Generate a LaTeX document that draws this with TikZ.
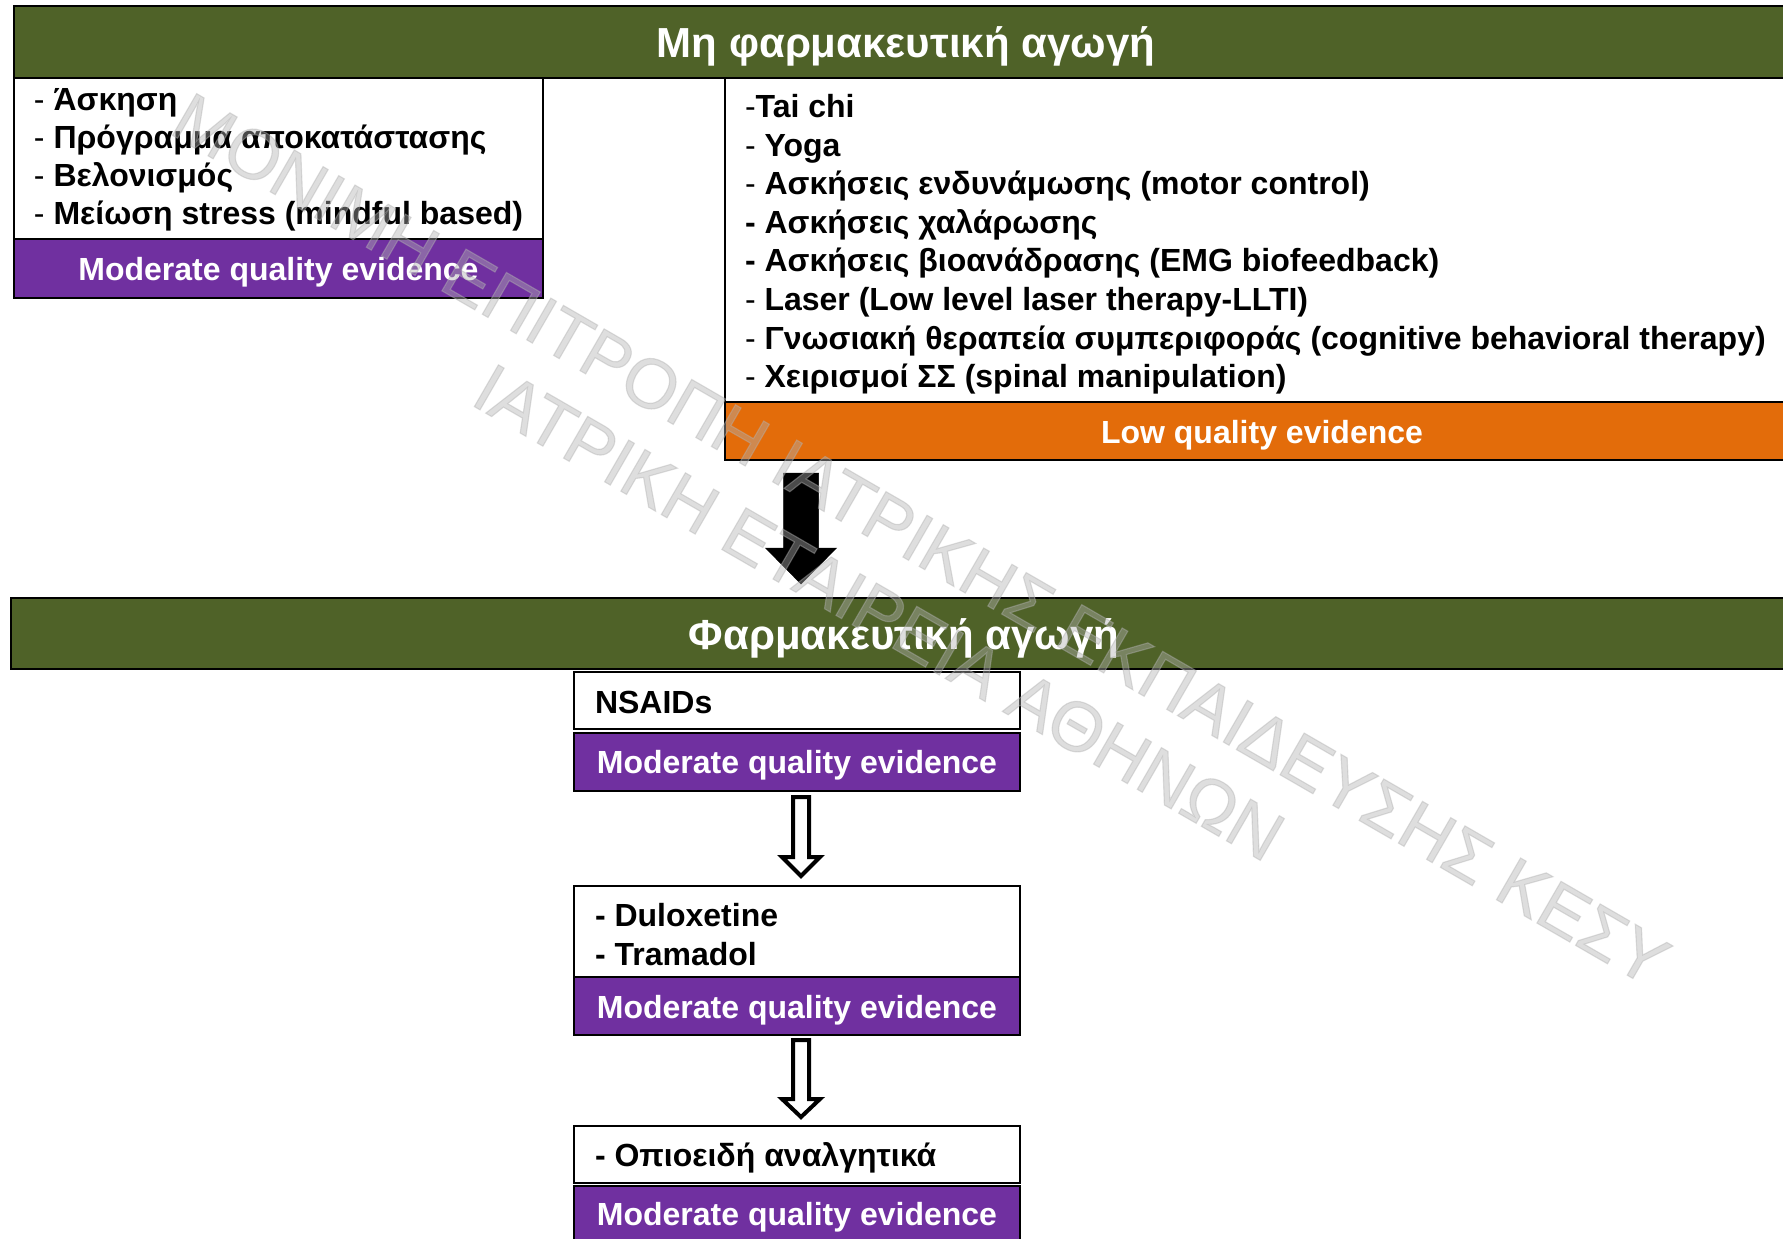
\documentclass[tikz,border=0pt]{standalone}
\usepackage{fontspec}
\setmainfont{Liberation Sans}
\newfontfamily\markfont[FakeBold=1.6]{Liberation Sans}
\usetikzlibrary{calc}
\definecolor{barGreen}{HTML}{4F6228}
\definecolor{evPurple}{HTML}{7030A0}
\definecolor{evOrange}{HTML}{E36C0A}
\definecolor{markGray}{RGB}{178,178,178}
\newcommand\thindash{{\mdseries -}}

\begin{document}
\begin{tikzpicture}[x=1pt,y=-1pt,
  every node/.style={inner sep=0pt, outer sep=0pt},
  panel/.style={draw=black, line width=2pt, rectangle, anchor=north west},
  whitepanel/.style={panel, fill=white},
  bar/.style={panel, fill=barGreen},
  purplepanel/.style={panel, fill=evPurple},
  orangepanel/.style={panel, fill=evOrange},
  titletext/.style={anchor=base, text=white, font=\fontsize{42}{50}\selectfont\bfseries},
  item/.style={anchor=base west, font=\fontsize{32}{38}\selectfont\bfseries},
  evtext/.style={anchor=base, text=white, font=\fontsize{32}{38}\selectfont\bfseries},
  solidarrow/.style={fill=black, draw=black, line width=0.5pt},
  hollowarrow/.style={fill=white, draw=black, line width=4pt, line join=miter},
  watermark/.style={rotate=-30, text=markGray, text opacity=0.42, align=center,
    font=\fontsize{70}{84}\markfont},
]
\path[use as bounding box] (0,0) rectangle (1783,1239);
\clip (0,0) rectangle (1783,1239);
\fill[white] (0,0) rectangle (1783,1239);

% ---- non-pharmacological treatment ----
\node[bar, minimum width=1784pt, minimum height=72pt] (topbar) at (14,6) {};
\node[titletext] (toptitle) at (906,57.5) {Μη φαρμακευτική αγωγή};

\node[whitepanel, minimum width=529pt, minimum height=161pt] (leftlist) at (14,78) {};
\node[purplepanel, minimum width=529pt, minimum height=59pt] (leftev) at (14,239) {};
\node[item] (la) at (34,110.5) {\thindash{} Άσκηση};
\node[item] (lb) at (34,148.5) {\thindash{} Πρόγραμμα αποκατάστασης};
\node[item] (lc) at (34,186.5) {\thindash{} Βελονισμός};
\node[item] (ld) at (34,224.5) {\thindash{} Μείωση stress (mindful based)};
\node[evtext] (leftevtext) at (278.5,280) {Moderate quality evidence};

\node[whitepanel, minimum width=1074pt, minimum height=324pt] (rightlist) at (725,78) {};
\node[orangepanel, minimum width=1074pt, minimum height=58pt] (rightev) at (725,402) {};
\node[item] (ra) at (745,117.5) {\thindash Tai chi};
\node[item] (rb) at (745,156.1) {\thindash{} Yoga};
\node[item] (rc) at (745,194.7) {\thindash{} Ασκήσεις ενδυνάμωσης (motor control)};
\node[item] (rd) at (745,233.3) {- Ασκήσεις χαλάρωσης};
\node[item] (re) at (745,271.9) {- Ασκήσεις βιοανάδρασης (EMG biofeedback)};
\node[item] (rf) at (745,310.5) {\thindash{} Laser (Low level laser therapy-LLTI)};
\node[item] (rg) at (745,349.1) {\thindash{} Γνωσιακή θεραπεία συμπεριφοράς (cognitive behavioral therapy)};
\node[item] (rh) at (745,387.7) {\thindash{} Χειρισμοί ΣΣ (spinal manipulation)};
\node[evtext] (rightevtext) at (1262,443) {Low quality evidence};

% ---- solid arrow down to the pharmacological part ----
\coordinate (bigtop) at (801,473);
\draw[solidarrow] (bigtop) ++(-17.5,0) -- ++(0,75) -- ++(-18,0) -- ++(35.5,36)
  -- ++(35.5,-36) -- ++(-18,0) -- ++(0,-75) -- cycle;

% ---- pharmacological treatment ----
\node[bar, minimum width=1787pt, minimum height=71pt] (midbar) at (11,598) {};
\node[titletext] (midtitle) at (904,649) {Φαρμακευτική αγωγή};

\node[whitepanel, minimum width=446pt, minimum height=57pt] (nsaid) at (574,672) {};
\node[purplepanel, minimum width=446pt, minimum height=58pt] (nsaidev) at (574,733) {};
\node[item] (nsaidtext) at (595,713.5) {NSAIDs};
\node[evtext] (nsaidevtext) at (797,773.5) {Moderate quality evidence};

\coordinate (stepa) at (801,797);
\draw[hollowarrow] (stepa) ++(-8,0) -- ++(0,60) -- ++(-11,0) -- ++(19,19)
  -- ++(19,-19) -- ++(-11,0) -- ++(0,-60) -- cycle;

\node[whitepanel, minimum width=446pt, minimum height=91pt] (dulox) at (574,886) {};
\node[purplepanel, minimum width=446pt, minimum height=58pt] (duloxev) at (574,977) {};
\node[item] (duloxa) at (595,926.5) {- Duloxetine};
\node[item] (duloxb) at (595,965) {- Tramadol};
\node[evtext] (duloxevtext) at (797,1018) {Moderate quality evidence};

\coordinate (stepb) at (801,1040);
\draw[hollowarrow] (stepb) ++(-8,0) -- ++(0,59) -- ++(-11,0) -- ++(19,18)
  -- ++(19,-18) -- ++(-11,0) -- ++(0,-59) -- cycle;

\node[whitepanel, minimum width=446pt, minimum height=57pt] (opioid) at (574,1126) {};
\node[purplepanel, minimum width=446pt, minimum height=60pt] (opioidev) at (574,1186) {};
\node[item] (opioidtext) at (595,1166.5) {- Οπιοειδή αναλγητικά};
\node[evtext] (opioidevtext) at (797,1225.5) {Moderate quality evidence};

% ---- watermark ----
\node[watermark] (mark) at (900,576)
  {ΜΟΝΙΜΗ ΕΠΙΤΡΟΠΗ ΙΑΤΡΙΚΗΣ ΕΚΠΑΙΔΕΥΣΗΣ ΚΕΣΥ\\ΙΑΤΡΙΚΗ ΕΤΑΙΡΕΙΑ ΑΘΗΝΩΝ};
\end{tikzpicture}
\end{document}
